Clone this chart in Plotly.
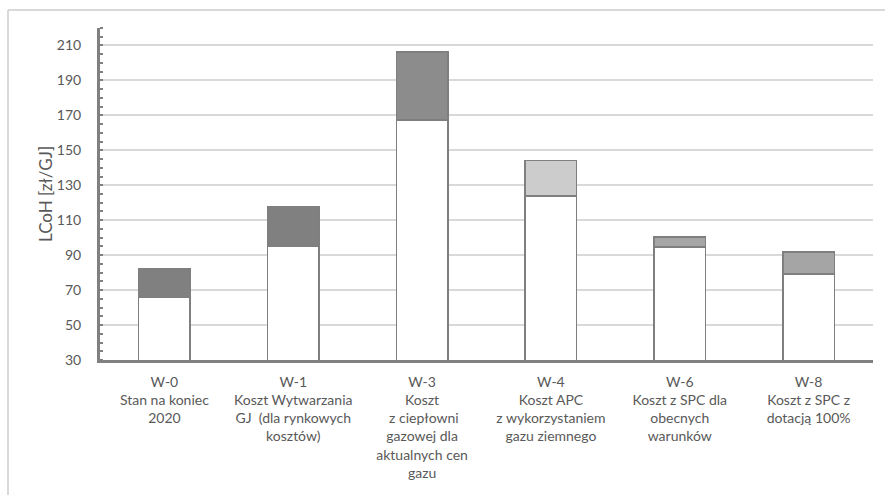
import plotly.graph_objects as go

# Scenario labels (code + description)
categories = [
    "W-0<br>Stan na koniec<br>2020",
    "W-1<br>Koszt Wytwarzania<br>GJ  (dla rynkowych<br>kosztów)",
    "W-3<br>Koszt<br> z ciepłowni<br>gazowej dla<br>aktualnych cen<br>gazu",
    "W-4<br>Koszt APC<br>z wykorzystaniem<br>gazu ziemnego",
    "W-6<br>Koszt z SPC dla<br>obecnych<br>warunków",
    "W-8<br>Koszt z SPC z<br>dotacją 100%",
]

# LCoH [zł/GJ]: base level and the additional component stacked on top
base_cost = [66, 95, 167.3, 123.9, 94.6, 79.3]
extra_cost = [16.4, 22.8, 38.9, 20.2, 5.7, 12.6]

extra_colors = ["#808080", "#808080", "#8c8c8c", "#cccccc", "#a6a6a6", "#a5a5a5"]

y_ticks = [30, 50, 70, 90, 110, 130, 150, 170, 190, 210]

idx = list(range(len(categories)))
outline = dict(color="#7f7f7f", width=1.5)

fig = go.Figure()
fig.add_trace(go.Bar(
    x=idx, y=base_cost, width=0.4,
    marker=dict(color="#ffffff", line=outline),
    showlegend=False, hoverinfo="y",
))
fig.add_trace(go.Bar(
    x=idx, y=extra_cost, width=0.4,
    marker=dict(color=extra_colors, line=outline),
    showlegend=False, hoverinfo="y",
))

font_main = "Lato, 'Open Sans', sans-serif"

fig.update_layout(
    barmode="stack",
    width=885, height=495,
    margin=dict(l=100, r=12, t=28, b=135),
    paper_bgcolor="#ffffff",
    plot_bgcolor="#ffffff",
    font=dict(family=font_main, size=14, color="#595959"),
    xaxis=dict(
        tickmode="array", tickvals=idx, ticktext=categories,
        range=[-0.5, len(categories) - 0.5],
        showline=True, linecolor="#808080", linewidth=3,
        showgrid=False, ticks="", zeroline=False,
        tickfont=dict(size=14, color="#595959"),
        ticklabelstandoff=7,
    ),
    yaxis=dict(
        range=[30, 220],
        tickmode="array", tickvals=y_ticks,
        showline=True, linecolor="#808080", linewidth=3,
        showgrid=True, gridcolor="#d9d9d9", gridwidth=2,
        ticks="", zeroline=False,
        tickfont=dict(size=14, color="#595959"),
        ticklabelstandoff=13,
        minor=dict(ticks="inside", dtick=5, tick0=30, ticklen=3,
                   tickwidth=2, tickcolor="#808080", showgrid=False),
    ),
    annotations=[
        dict(text="LCoH [zł/GJ]", textangle=-90,
             xref="paper", yref="paper", x=(45 - 100) / 773, y=0.5,
             xanchor="center", yanchor="middle", showarrow=False,
             font=dict(size=17, color="#595959")),
    ],
    shapes=[
        # outer chart frame (top and left edges)
        dict(type="line", xref="paper", yref="paper",
             x0=(8 - 100) / 773, x1=(886 - 100) / 773,
             y0=1 + 18 / 332, y1=1 + 18 / 332,
             line=dict(color="#d9d9d9", width=2)),
        dict(type="line", xref="paper", yref="paper",
             x0=(8 - 100) / 773, x1=(8 - 100) / 773,
             y0=1 + 18 / 332, y1=-140 / 332,
             line=dict(color="#d9d9d9", width=2)),
    ],
)

fig.write_html("out.html")
